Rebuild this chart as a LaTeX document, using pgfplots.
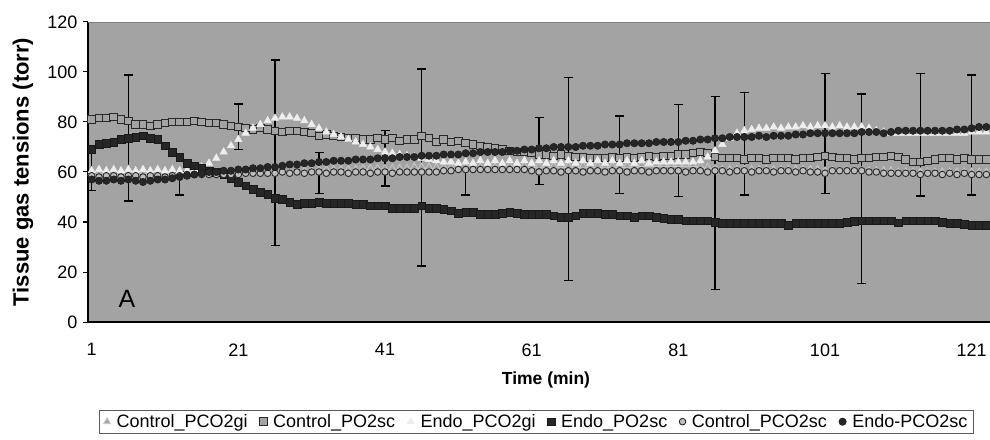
\documentclass[border=0pt]{standalone}
\usepackage{fontspec}
\setmainfont{Liberation Sans}
\usepackage{pgfplots}
\pgfplotsset{compat=1.18}
\usepackage{pgfplotstable}
\definecolor{bg}{RGB}{163,163,163}
\definecolor{lgtri}{RGB}{200,200,200}
\definecolor{wtri}{RGB}{238,238,238}
\definecolor{dk}{RGB}{40,40,40}
\definecolor{circfill}{RGB}{190,190,190}

\pgfplotstableread{
x cgi cpo egi epo cps eps
1 59.5 81 60.5 69 58.5 57
2 59.5 81.5 61 71 58 56.5
3 60 81.5 60.5 71.5 58.5 56.5
4 59.5 82 61 72 58.5 57
5 59.5 81 60.5 73 58 56.5
6 60 80.5 61 73.5 58.5 57
7 59.5 79 60.5 74 58.5 56.5
8 59.5 79 61 74.5 58 56
9 60 78.5 60.5 73.5 58.5 56.5
10 59.5 79 61 73 58.5 57
11 59.5 79.5 60.5 70.5 58 57
12 60 80 61 68 58.5 57.5
13 60 80 60.5 66 58.5 58
14 60 80 60.5 63.5 59 58.5
15 60 80.5 61 62.5 59 59
16 60 80 62 61.5 59 59.5
17 60 79.5 63.5 60.5 59 60
18 60 79.5 65.5 60 59 60
19 60 79 68 59 59 60.5
20 60 78.5 70.5 57.5 59 60.5
21 60 78 73 56 59 61
22 60 77.5 75.5 54.5 59.5 61
23 60 77 77.5 53 59.5 61.5
24 60 77.5 79 52 59.5 61.5
25 60 77 80.5 51 59.5 62
26 60 76.5 81.5 49.5 59.5 62
27 60 76 82 49 60 62.5
28 60 76.5 82 48 59.5 63
29 60 76.5 81.5 47 60 63
30 60.5 76 80.5 47.5 59.5 63.5
31 60.5 75.5 79 47.5 60 63.5
32 61 74.5 77.5 48 60 64
33 61 75 76 47.5 59.5 64
34 61 74.5 75 47.5 60 64.5
35 61 74 74 47.5 60 64.5
36 61 73.5 73 47.5 59.5 64.5
37 61 73.5 72 47 60 65
38 61.5 73 71 47 60 65
39 61.5 73 70 46.5 59.5 65
40 61.5 73.5 69 46.5 60 65.5
41 61.5 73 68 46.5 60 65.5
42 61.5 73.5 67.5 45.5 59.5 65.5
43 61.5 72.5 67 45.5 60 66
44 61.5 73 66.5 45.5 60 66
45 62 73 66 45.5 60 66
46 62 74.5 65.5 46.5 60 66.5
47 62 73.5 65 45.5 60 66.5
48 62 72 64.5 45.5 60 66.5
49 62 73 64 45 60.5 67
50 62 72 64 44.5 60.5 67
51 62 72.5 63.5 43.5 61 67
52 62 71.5 64 44 61 67.5
53 62 71 63.5 44 61 67.5
54 62 70.5 64.5 43 61 68
55 62 70 63.5 43 61 68
56 62 69.5 64.5 43 61 68
57 62 69 63.5 43.5 61 68
58 62.5 68.5 64.5 44 61 68.5
59 62.5 68 63.5 43.5 61 68.5
60 62.5 68 64.5 43 61 69
61 62.5 67.5 63.5 43 60.5 69
62 62.5 67 64.5 43 60 69.5
63 62.5 67 63.5 43 60.5 69.5
64 62.5 66.5 64.5 42.5 60.5 70
65 62.5 67 63.5 42 60 70
66 62.5 66.5 64.5 42 60.5 70
67 62.5 66 63.5 42.5 60.5 70
68 62.5 66 64.5 43.5 60 70.5
69 62.5 65.5 63.5 43.5 60.5 70.5
70 62.5 65.5 64.5 43.5 60.5 70.5
71 62.5 65.5 63.5 43 60 71
72 62.5 66 64.5 43 60.5 71
73 62.5 65.5 63.5 42.5 60.5 71
74 62.5 66 64.5 42.5 60 71.5
75 62.5 65.5 63.5 42 60.5 71.5
76 63 66 64.5 42.5 60.5 71.5
77 63 66.5 63.5 42.5 60 71.5
78 63 66 64 42 60.5 72
79 63 66.5 64 41.5 60.5 72
80 63 66.5 64 41 60.5 72
81 63 67 64 41 60.5 72
82 63 67 64 40.5 60 72.5
83 63 67.5 64 40.5 60.5 72.5
84 62.5 68 64.5 40.5 60.5 73
85 62 67.5 66 40.5 60 73
86 61.5 66 68.5 40 60.5 73.5
87 61 65.5 71 39.5 60.5 73.5
88 61 65.5 73.5 39.5 60 74
89 61 65.5 75.5 39.5 60.5 74
90 61 65 76.5 39.5 60.5 74
91 61 65.5 77 39.5 60 74
92 61 65.5 77.5 39.5 60.5 74.5
93 61 65 77.5 39.5 60.5 74
94 61 65.5 78 39.5 60 74.5
95 61 65.5 77.5 39.5 60.5 74.5
96 61 65.5 78 38.8 60.5 74.5
97 61 65 78 39.5 60 75
98 61 65.5 78.5 39.5 60.5 75
99 61 65.5 78 39.5 60 75.5
100 61 66 78.5 39.5 60 75.5
101 60.5 66.5 78.5 39.5 59.5 75.5
102 60.5 66 78 39.5 60.5 75.5
103 60.5 65.5 78.5 39.5 60.5 75.5
104 60.5 65.5 78 40 60.5 75.5
105 60.5 65 78 40.3 60.5 75.5
106 60.5 65.5 78 40.5 60.5 76
107 60.5 65.5 77.5 40.5 60 76
108 60.5 66 76.5 40.5 60 76
109 60.5 66 76 40.5 59.5 75.5
110 60.5 66.5 75.5 40.5 59.5 76
111 60 66 75.5 39.7 59.5 76.5
112 60 65 75.5 40.5 59.5 76.5
113 60 64 75.5 40.5 59.5 76.5
114 60 64 75.5 40.5 59 76.5
115 60 64.5 75.5 40.5 59.5 76.5
116 60 65 75.5 40.5 59.5 76.5
117 60 65.5 75.5 40 59 76.5
118 60 65.5 75.5 39.6 59.5 76.5
119 60 65 75.5 39.6 59 77
120 60 65.5 75.5 39 59.5 77
121 60 65 76 38.7 59 77.5
122 60 65 76 38.7 59 78
123 60 65 76 38.7 59 78
}\data

\begin{document}
\begin{tikzpicture}
\begin{axis}[
  name=ax, at={(0,0)}, anchor=south west,
  width=902pt, height=300pt, scale only axis,
  xmin=0.5, xmax=123.5, ymin=0, ymax=120,
  axis background/.style={fill=bg},
  axis x line=bottom, axis y line=left,
  axis line style={line width=1.2pt, -, black},
  xtick={1,21,...,121}, ytick={0,20,...,120},
  x tick style={draw=none},
  y tick style={line width=1pt, black},
  tick align=outside, major tick length=5pt,
  /pgf/number format/assume math mode=true,
  tick label style={font=\fontsize{18}{20}\selectfont},
  xticklabel style={yshift=-13pt},
  yticklabel style={xshift=-2pt},
  xlabel={Time (min)},
  every axis x label/.style={at={(axis description cs:0.5,0)}, anchor=center, yshift=-58pt, xshift=7pt, font=\bfseries\fontsize{17.5}{20}\selectfont},
  legend style={at={(axis description cs:0.5,0)}, anchor=north, yshift=-88pt, xshift=-2.5pt,
    legend columns=-1, draw=black!65, line width=0.8pt, fill=white,
    font=\fontsize{18}{20}\selectfont, inner xsep=4pt, inner ysep=2pt,
    /tikz/every odd column/.append style={column sep=4pt},
    /tikz/every even column/.append style={column sep=10pt}},
  legend image code/.code={\draw[mark repeat=2,mark phase=2,#1] plot coordinates {(0pt,0pt) (4pt,0pt) (8pt,0pt)};},
]
\draw[black!50, line width=0.8pt] (rel axis cs:0,1) -- (rel axis cs:1,1);
% error bars
\addplot[forget plot, draw=none, mark=none, black, line width=1.1pt,
  error bars/.cd, y dir=both, y explicit,
  error bar style={line width=1.1pt, black},
  error mark options={rotate=90, mark size=4.5pt, line width=1.1pt, black}]
  coordinates {
  (1,60.75) +- (0,8.25)
  (6,73.6) +- (0,25.2)
  (13,55.4) +- (0,4.6)
  (21,78.1) +- (0,9.1)
  (26,67.65) +- (0,37.15)
  (32,59.6) +- (0,8.1)
  (41,65.45) +- (0,11.05)
  (46,61.8) +- (0,39.4)
  (52,55.9) +- (0,5.1)
  (62,68.4) +- (0,13.5)
  (66,57.1) +- (0,40.6)
  (73,66.95) +- (0,15.45)
  (81,68.6) +- (0,18.5)
  (86,51.6) +- (0,38.5)
  (90,71.35) +- (0,20.55)
  (101,75.5) +- (0,24)
  (106,53.25) +- (0,37.95)
  (114,74.95) +- (0,24.55)
  (121,74.8) +- (0,24)
  };
\addplot[only marks, mark=triangle*, mark size=4pt, mark options={draw=lgtri, fill=bg, line width=0.8pt}] table[x=x, y=cgi] {\data};
\addlegendentry{Control\_PCO2gi}
\addplot[only marks, mark=square*, mark size=3.7pt, mark options={draw=dk, fill=bg, line width=1pt}] table[x=x, y=cpo] {\data};
\addlegendentry{Control\_PO2sc}
\addplot[only marks, mark=triangle*, mark size=4.3pt, mark options={draw=wtri, fill=wtri, line width=0.5pt}] table[x=x, y=egi] {\data};
\addlegendentry{Endo\_PCO2gi}
\addplot[only marks, mark=square*, mark size=3.8pt, mark options={draw=black!90, fill=black!85, line width=0.5pt}] table[x=x, y=epo] {\data};
\addlegendentry{Endo\_PO2sc}
\addplot[only marks, mark=*, mark size=3.3pt, mark options={draw=dk, fill=circfill, line width=0.9pt}] table[x=x, y=cps] {\data};
\addlegendentry{Control\_PCO2sc}
\addplot[only marks, mark=*, mark size=3.7pt, mark options={draw=black!90, fill=black!85, line width=0.5pt}] table[x=x, y=eps] {\data};
\addlegendentry{Endo-PCO2sc}
\node[font=\fontsize{25}{28}\selectfont] at (axis cs:5.8,9.2) {A};
\end{axis}
\node[rotate=90, font=\bfseries\fontsize{22}{24}\selectfont] at ([xshift=-65pt]ax.west) {Tissue gas tensions (torr)};
\pgfresetboundingbox
\path[use as bounding box] ([xshift=-88pt,yshift=-117pt]ax.south west) rectangle ([yshift=22pt]ax.north east);
\end{tikzpicture}
\end{document}
